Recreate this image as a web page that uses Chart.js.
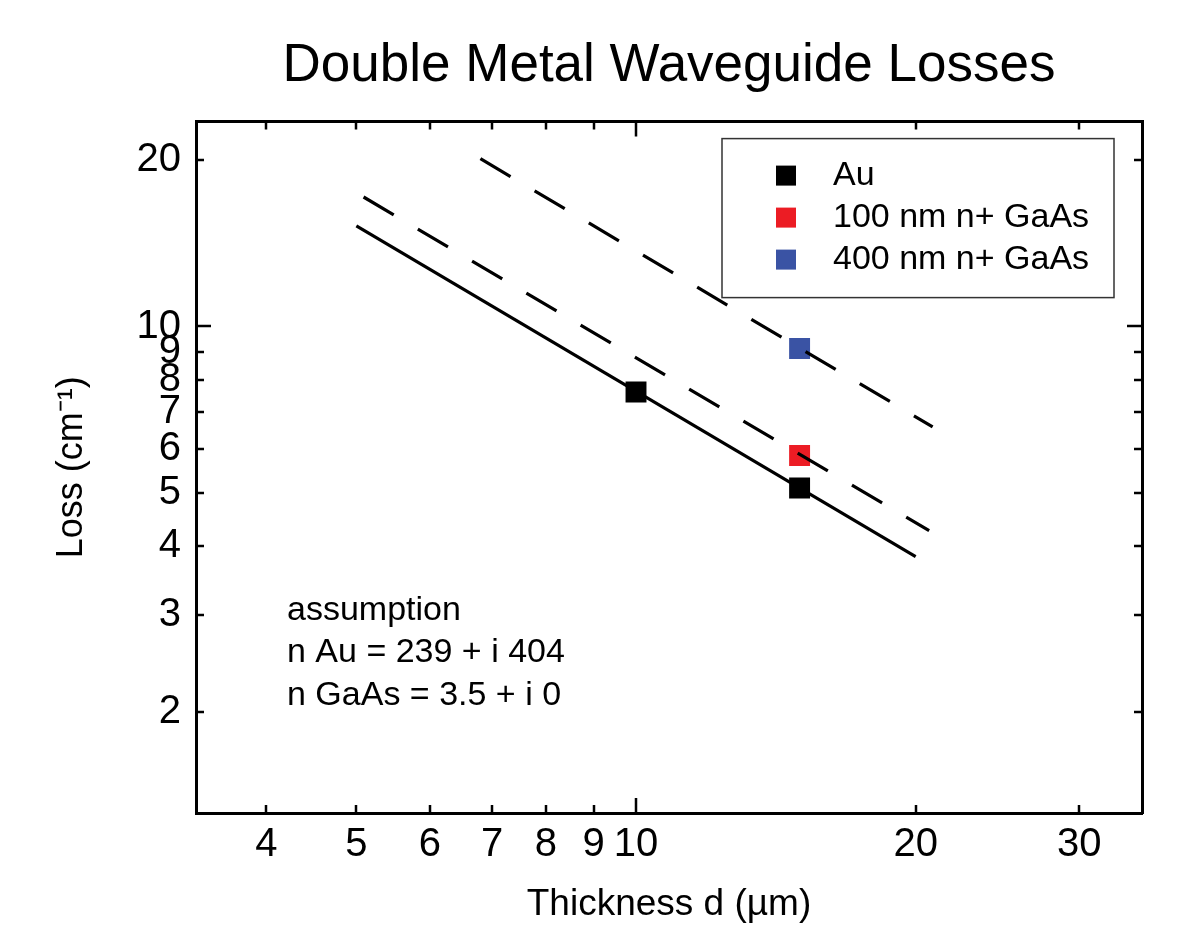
<!DOCTYPE html>
<html>
<head>
<meta charset="utf-8">
<title>Double Metal Waveguide Losses</title>
<script src="https://cdn.jsdelivr.net/npm/chart.js@4.4.0/dist/chart.umd.min.js"></script>
<style>
    html, body { margin: 0; padding: 0; background: #fff; }
</style>
</head>
<body>
<canvas id="lossChart" width="1185" height="927"></canvas>
<script>
// measured losses (thickness d in µm, loss in cm^-1)
const AU_X = [10, 15];
const AU_Y = [7.61, 5.1];
const GAAS100_X = [15];
const GAAS100_Y = [5.84];
const GAAS400_X = [15];
const GAAS400_Y = [9.12];

// model curves (straight on log-log, so two end points each)
const AU_LINE_X = [5, 20];
const AU_LINE_Y = [15.22, 3.83];
const GAAS100_LINE_X = [5.09, 20.68];
const GAAS100_LINE_Y = [17.16, 4.27];
const GAAS400_LINE_X = [6.8, 20.86];
const GAAS400_LINE_Y = [20.13, 6.58];

const X_TICKS = [4, 5, 6, 7, 8, 9, 10, 20, 30];
const Y_TICKS = [2, 3, 4, 5, 6, 7, 8, 9, 10, 20];
const MAJOR_TICKS = [10];
const X_RANGE = [3.36, 35.05];
const Y_RANGE = [1.315, 23.5];

const NOTE_LINES = ['assumption', 'n Au = 239 + i 404', 'n GaAs = 3.5 + i 0'];

const COLORS = {
    au: '#000000',
    gaas100: '#ec1c24',
    gaas400: '#3a53a4',
    line: '#000000',
};

const FONT = "'Liberation Sans', Arial, Helvetica, sans-serif";
Chart.defaults.font.family = FONT;
Chart.defaults.color = '#000';

const pts = (xs, ys) => xs.map((x, i) => ({ x: x, y: ys[i] }));

// ==========================================
// inward tick marks on all four sides
// ==========================================
const innerTicks = {
    id: 'innerTicks',
    afterDraw(chart) {
        const { ctx, chartArea: a, scales } = chart;
        ctx.save();
        ctx.strokeStyle = '#000';
        ctx.lineWidth = 2.5;
        X_TICKS.forEach(v => {
            const px = Math.round(scales.x.getPixelForValue(v));
            const len = MAJOR_TICKS.includes(v) ? 15 : 8;
            ctx.beginPath();
            ctx.moveTo(px, a.bottom); ctx.lineTo(px, a.bottom - len);
            ctx.moveTo(px, a.top); ctx.lineTo(px, a.top + len);
            ctx.stroke();
        });
        Y_TICKS.forEach(v => {
            const py = Math.round(scales.y.getPixelForValue(v));
            const len = MAJOR_TICKS.includes(v) ? 15 : 8;
            ctx.beginPath();
            ctx.moveTo(a.left, py); ctx.lineTo(a.left + len, py);
            ctx.moveTo(a.right, py); ctx.lineTo(a.right - len, py);
            ctx.stroke();
        });
        ctx.restore();
    }
};

// ==========================================
// boxed legend inside the plot (marker datasets only)
// ==========================================
const boxLegend = {
    id: 'boxLegend',
    afterDraw(chart) {
        const { ctx, chartArea: a } = chart;
        const items = chart.data.datasets.filter(d => !d.showLine);
        const left = a.right - 420, top = a.top + 17;
        ctx.save();
        ctx.fillStyle = '#fff';
        ctx.fillRect(left, top, 392, 159);
        ctx.strokeStyle = '#333';
        ctx.lineWidth = 1.5;
        ctx.strokeRect(left, top, 392, 159);
        ctx.font = '34px ' + FONT;
        ctx.textBaseline = 'middle';
        items.forEach((d, i) => {
            const cy = top + 37 + i * 42;
            ctx.fillStyle = d.backgroundColor;
            ctx.fillRect(left + 54, cy - 10, 20, 20);
            ctx.fillStyle = '#000';
            ctx.fillText(d.label, left + 111, cy);
        });
        ctx.restore();
    }
};

// ==========================================
// assumption note, lower left
// ==========================================
const noteText = {
    id: 'noteText',
    afterDraw(chart) {
        const { ctx, chartArea: a } = chart;
        ctx.save();
        ctx.font = '34px ' + FONT;
        ctx.fillStyle = '#000';
        ctx.textBaseline = 'alphabetic';
        NOTE_LINES.forEach((t, i) => {
            ctx.fillText(t, a.left + 91, a.top + 498 + i * 42.8);
        });
        ctx.restore();
    }
};

const lineSet = (label, xs, ys, dash) => ({
    label: label,
    data: pts(xs, ys),
    showLine: true,
    borderColor: COLORS.line,
    borderWidth: 3.2,
    borderDash: dash,
    pointRadius: 0,
    order: 0,
});

const markerSet = (label, xs, ys, color) => ({
    label: label,
    data: pts(xs, ys),
    showLine: false,
    backgroundColor: color,
    borderColor: color,
    borderWidth: 0,
    pointStyle: 'rect',
    pointRadius: 14.8,
    order: 1,
});

const logAxis = (range, ticks, extra) => Object.assign({
    type: 'logarithmic',
    min: range[0],
    max: range[1],
    grid: { display: false, drawTicks: false },
    border: { display: true, width: 3, color: '#000' },
    afterBuildTicks: s => { s.ticks = ticks.map(v => ({ value: v })); },
}, extra);

new Chart(document.getElementById('lossChart'), {
    type: 'scatter',
    data: {
        datasets: [
            lineSet('Au model', AU_LINE_X, AU_LINE_Y, []),
            lineSet('100 nm model', GAAS100_LINE_X, GAAS100_LINE_Y, [35, 28]),
            lineSet('400 nm model', GAAS400_LINE_X, GAAS400_LINE_Y, [35, 28]),
            markerSet('Au', AU_X, AU_Y, COLORS.au),
            markerSet('100 nm n+ GaAs', GAAS100_X, GAAS100_Y, COLORS.gaas100),
            markerSet('400 nm n+ GaAs', GAAS400_X, GAAS400_Y, COLORS.gaas400),
        ]
    },
    options: {
        responsive: false,
        animation: false,
        events: [],
        layout: { padding: 0 },
        plugins: {
            legend: { display: false },
            tooltip: { enabled: false },
            title: {
                display: true,
                fullSize: false,
                text: 'Double Metal Waveguide Losses',
                color: '#000',
                font: { family: FONT, size: 53, weight: 'normal' },
                padding: { top: 35, bottom: 23 },
            }
        },
        scales: {
            x: logAxis(X_RANGE, X_TICKS, {
                position: 'bottom',
                afterFit: s => { s.height = 114; },
                ticks: {
                    autoSkip: false, maxRotation: 0, padding: 8, color: '#000',
                    font: { size: 40 },
                    callback: v => String(v)
                },
                title: {
                    display: true, text: 'Thickness d (µm)', color: '#000',
                    font: { size: 37 }, padding: { top: 0, bottom: 0 }
                }
            }),
            y: logAxis(Y_RANGE, Y_TICKS, {
                position: 'left',
                afterFit: s => { s.width = 196; },
                ticks: {
                    autoSkip: false, padding: 15, color: '#000',
                    font: { size: 40 },
                    callback: v => String(v)
                },
                title: {
                    display: true, text: 'Loss (cm⁻¹)', color: '#000',
                    font: { size: 36 }, padding: { top: 50, bottom: 0 }
                }
            }),
            x2: logAxis(X_RANGE, X_TICKS, {
                position: 'top',
                afterFit: s => { s.height = 0; },
                ticks: { display: false }
            }),
            y2: logAxis(Y_RANGE, Y_TICKS, {
                position: 'right',
                afterFit: s => { s.width = 43; },
                ticks: { display: false }
            })
        }
    },
    plugins: [innerTicks, noteText, boxLegend]
});
</script>
</body>
</html>
